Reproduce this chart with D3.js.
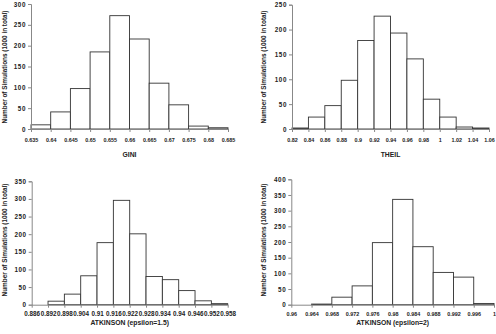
<!DOCTYPE html>
<html><head><meta charset="utf-8">
<script src="https://cdn.jsdelivr.net/npm/d3@7"></script>
<style>body{margin:0;background:#fff}svg{display:block}text{font-family:"Liberation Sans",Arial,sans-serif;fill:#222}</style>
</head><body>
<svg id="c" width="496" height="334"></svg>
<script>
const giniEdges = [0.635,0.64,0.645,0.65,0.655,0.66,0.665,0.67,0.675,0.68,0.685];
const giniCounts = [10,41,97,185,272,216,110,58,7,3];
const giniTicks = ["0.635","0.64","0.645","0.65","0.655","0.66","0.665","0.67","0.675","0.68","0.685"];

const theilEdges = [0.82,0.84,0.86,0.88,0.9,0.92,0.94,0.96,0.98,1,1.02,1.04,1.06];
const theilCounts = [2,24,47,98,178,227,193,141,60,24,4,2];
const theilTicks = ["0.82","0.84","0.86","0.88","0.9","0.92","0.94","0.96","0.98","1","1.02","1.04","1.06"];

const atk15Edges = [0.886,0.892,0.898,0.904,0.91,0.916,0.922,0.928,0.934,0.94,0.946,0.952,0.958];
const atk15Counts = [0,10,30,82,176,296,201,80,71,40,11,3];
const atk15Ticks = ["0.886","0.892","0.898","0.904","0.91","0.916","0.922","0.928","0.934","0.94","0.946","0.952","0.958"];

const atk2Edges = [0.96,0.964,0.968,0.972,0.976,0.98,0.984,0.988,0.992,0.996,1];
const atk2Counts = [0,2,24,60,198,336,185,103,88,4];
const atk2Ticks = ["0.96","0.964","0.968","0.972","0.976","0.98","0.984","0.988","0.992","0.996","1"];

const yTitle = "Number of Simulations (1000 in total)";

const panels = [
  {edges:giniEdges,counts:giniCounts,ticks:giniTicks,title:"GINI",ymax:300,
   x0:31,x1:228,yb:129,yt:4,xfs:5.4,labY:142,titY:156.5,ytX:4.5,ytY:67},
  {edges:theilEdges,counts:theilCounts,ticks:theilTicks,title:"THEIL",ymax:250,
   x0:292,x1:489,yb:129,yt:4.7,xfs:5.4,labY:142,titY:156.5,ytX:263.5,ytY:67},
  {edges:atk15Edges,counts:atk15Counts,ticks:atk15Ticks,title:"ATKINSON (epsilon=1.5)",ymax:350,
   x0:31.7,x1:227.7,yb:304.7,yt:181.3,xfs:6.3,labY:316,titY:324.5,ytX:4.5,ytY:240},
  {edges:atk2Edges,counts:atk2Counts,ticks:atk2Ticks,title:"ATKINSON (epsilon=2)",ymax:400,
   x0:291.3,x1:494,yb:304.7,yt:179.3,xfs:5.4,labY:316,titY:324.5,ytX:264,ytY:240}
];

const svg = d3.select("#c");

panels.forEach(p => {
  const x = d3.scaleLinear().domain([p.edges[0], p.edges[p.edges.length-1]]).range([p.x0, p.x1]);
  const y = d3.scaleLinear().domain([0, p.ymax]).range([p.yb, p.yt]);
  const g = svg.append("g");

  // bars
  const bins = p.counts.map((c,i)=>({a:p.edges[i], b:p.edges[i+1], c}));
  g.selectAll("rect").data(bins).join("rect")
    .attr("x", d=>x(d.a)).attr("y", d=>y(d.c))
    .attr("width", d=>x(d.b)-x(d.a)).attr("height", d=>y(0)-y(d.c))
    .attr("fill","#fff").attr("stroke","#333").attr("stroke-width",0.9);

  // y axis
  const ya = d3.axisLeft(y).tickValues(d3.range(0, p.ymax+1, 50)).tickSize(3).tickPadding(2);
  const yg = g.append("g").attr("transform",`translate(${p.x0},0)`).call(ya);
  yg.select(".domain").attr("stroke","#888");
  yg.selectAll(".tick line").attr("stroke","#888");
  yg.selectAll(".tick text").attr("font-size",6.3).attr("font-weight","bold").attr("fill","#333")
    .attr("font-family","Liberation Sans, Arial, sans-serif").attr("letter-spacing","0.6");

  // x axis
  const xa = d3.axisBottom(x).tickValues(p.edges).tickFormat((d,i)=>p.ticks[i]).tickSize(3).tickSizeOuter(0).tickPadding(2);
  const xg = g.append("g").attr("transform",`translate(0,${p.yb})`).call(xa);
  xg.select(".domain").attr("stroke","#888");
  xg.selectAll(".tick line").attr("stroke","#888");
  xg.selectAll(".tick text").attr("font-size",p.xfs).attr("font-weight","bold").attr("fill","#333")
    .attr("font-family","Liberation Sans, Arial, sans-serif")
    .attr("y", null).attr("dy", null).attr("transform",`translate(0,${p.labY-p.yb})`);

  // x title
  svg.append("text").attr("x",(p.x0+p.x1)/2).attr("y",p.titY).attr("text-anchor","middle")
    .attr("font-size",6.8).attr("font-weight","bold").attr("fill","#333").text(p.title);

  // y title
  svg.append("text").attr("transform",`translate(${p.ytX+2.3},${p.ytY}) rotate(-90)`)
    .attr("text-anchor","middle").attr("font-size",6.4).attr("font-weight","bold").attr("fill","#333").text(yTitle);
});
</script>
</body></html>
